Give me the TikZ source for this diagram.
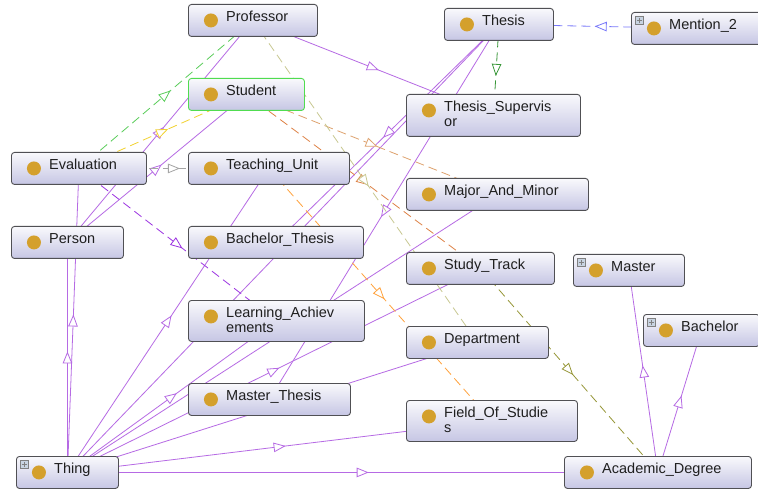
\documentclass[tikz,border=0pt]{standalone}
\usepackage{fontspec}
\setmainfont{Liberation Sans}
\usetikzlibrary{arrows.meta}
\usetikzlibrary{decorations.markings}

\definecolor{isa}{RGB}{182,106,228}
\definecolor{boxline}{RGB}{80,80,84}
\definecolor{boxtop}{RGB}{249,249,252}
\definecolor{boxbottom}{RGB}{198,198,228}
\definecolor{dotgold}{RGB}{212,160,44}
\definecolor{selgreen}{RGB}{80,220,80}
\definecolor{plusfill}{RGB}{200,212,226}
\definecolor{evalgreen}{RGB}{90,205,90}
\definecolor{evalyellow}{RGB}{242,210,50}
\definecolor{evalgray}{RGB}{165,165,165}
\definecolor{evalviolet}{RGB}{155,50,225}
\definecolor{supgreen}{RGB}{55,150,55}
\definecolor{mentionblue}{RGB}{120,120,250}
\definecolor{trackorange}{RGB}{222,130,70}
\definecolor{minortan}{RGB}{222,162,110}
\definecolor{deptkhaki}{RGB}{200,200,145}
\definecolor{degreeolive}{RGB}{150,150,55}
\definecolor{fieldorange}{RGB}{255,162,60}

\pgfdeclarelayer{edges}
\pgfsetlayers{edges,main}

\tikzstyle{ontoclass}=[draw=boxline, line width=0.9pt, rounded corners=3pt,
  top color=boxtop, bottom color=boxbottom, anchor=north west, inner sep=0pt,
  path picture={\fill[dotgold] ([shift={(22.5pt,-16pt)}]path picture bounding box.north west) circle (7pt);}]
\tikzstyle{classname}=[anchor=north west, inner sep=0pt, align=left,
  font=\fontsize{14.5}{15}\selectfont, text=black!88]
\tikzstyle{plusbox}=[draw=gray, fill=plusfill, minimum size=8pt, inner sep=0pt,
  path picture={\draw[line width=0.9pt] ([xshift=-2.6pt]path picture bounding box.center) -- ++(5.2pt,0)
    ([yshift=-2.6pt]path picture bounding box.center) -- ++(0,5.2pt);}]
\tikzstyle{mid tip}=[postaction=decorate, decoration={markings,
  mark=at position 0.5 with {\arrow[xshift=6pt]{Triangle[length=12pt, width=9.5pt, fill=white]}}}]
\tikzstyle{subclass}=[draw=isa, line width=0.8pt, mid tip]
\tikzstyle{relation}=[line width=0.8pt, dash pattern=on 9pt off 5pt, mid tip]

% box, then its name; x y of the top left corner, width, height
\newcommand{\owlclass}[7][]{%
  \node[ontoclass, minimum width=#5pt, minimum height=#6pt, #1] (#2) at (#3,#4) {};
  \node[classname] (#2-name) at ([shift={(38,7)}]#2.north west) {#7};
}
\newcommand{\expander}[1]{%
  \node[plusbox] (#1-plus) at ([shift={(8.5,8.5)}]#1.north west) {};
}

\begin{document}
\begin{tikzpicture}[x=1pt, y=-1pt]
  \useasboundingbox (0,0) rectangle (758,489);
  \clip (0,0) rectangle (758,489);

  \owlclass{professor}{188}{4}{129}{32}{Professor}
  \owlclass[draw=selgreen]{student}{188}{78}{116}{32}{Student}
  \owlclass{evaluation}{11}{152}{135}{32}{Evaluation}
  \owlclass{teaching}{188}{152}{161}{32}{Teaching\_Unit}
  \owlclass{person}{11}{226}{112}{32}{Person}
  \owlclass{bthesis}{188}{226}{175}{32}{Bachelor\_Thesis}
  \owlclass{learning}{188}{300}{176}{41}{Learning\_Achiev\\ements}
  \owlclass{mthesis}{188}{383}{162}{32}{Master\_Thesis}
  \owlclass{thing}{16}{456}{102}{32}{Thing}
  \owlclass{thesis}{444}{8}{109}{32}{Thesis}
  \owlclass{mention}{631}{12}{142}{32}{Mention\_2}
  \owlclass{supervisor}{406}{94}{174}{42}{Thesis\_Supervis\\or}
  \owlclass{majorminor}{406}{178}{182}{32}{Major\_And\_Minor}
  \owlclass{studytrack}{406}{252}{148}{32}{Study\_Track}
  \owlclass{master}{573}{254}{111}{32}{Master}
  \owlclass{department}{406}{326}{142}{32}{Department}
  \owlclass{bachelor}{643}{314}{116}{32}{Bachelor}
  \owlclass{fieldstudies}{406}{400}{171}{41}{Field\_Of\_Studie\\s}
  \owlclass{degree}{564}{456}{187}{32}{Academic\_Degree}

  \expander{thing}
  \expander{mention}
  \expander{master}
  \expander{bachelor}

  \begin{pgfonlayer}{edges}
    \fill[white] (0,0) rectangle (758,489);
    % subclass links
    \foreach \sub in {person, evaluation, teaching, thesis, learning,
        majorminor, studytrack, department, fieldstudies, degree}
      \draw[subclass] (thing.center) -- (\sub.center);
    \draw[subclass] (person.center) -- (student.center);
    \draw[subclass] (person.center) -- (professor.center);
    \draw[subclass] (professor.center) -- (supervisor.center);
    \draw[subclass] (thesis.center) -- (bthesis.center);
    \draw[subclass] (thesis.center) -- (mthesis.center);
    \draw[subclass] (degree.center) -- (master.center);
    \draw[subclass] (degree.center) -- (bachelor.center);
    % object properties
    \draw[relation, draw=evalgreen] (evaluation.center) -- (professor.center);
    \draw[relation, draw=evalyellow] (evaluation.center) -- (student.center);
    \draw[relation, draw=evalgray] (evaluation.center) -- (teaching.center);
    \draw[relation, draw=evalviolet] (evaluation.center) -- (learning.center);
    \draw[relation, draw=supgreen] (thesis.center) -- (supervisor.center);
    \draw[relation, draw=mentionblue] (mention.center) -- (thesis.center);
    \draw[relation, draw=trackorange] (student.center) -- (studytrack.center);
    \draw[relation, draw=minortan] (student.center) -- (majorminor.center);
    \draw[relation, draw=deptkhaki] (professor.center) -- (department.center);
    \draw[relation, draw=degreeolive] (studytrack.center) -- (degree.center);
    \draw[relation, draw=fieldorange] (teaching.center) -- (fieldstudies.center);
  \end{pgfonlayer}
\end{tikzpicture}
\end{document}
